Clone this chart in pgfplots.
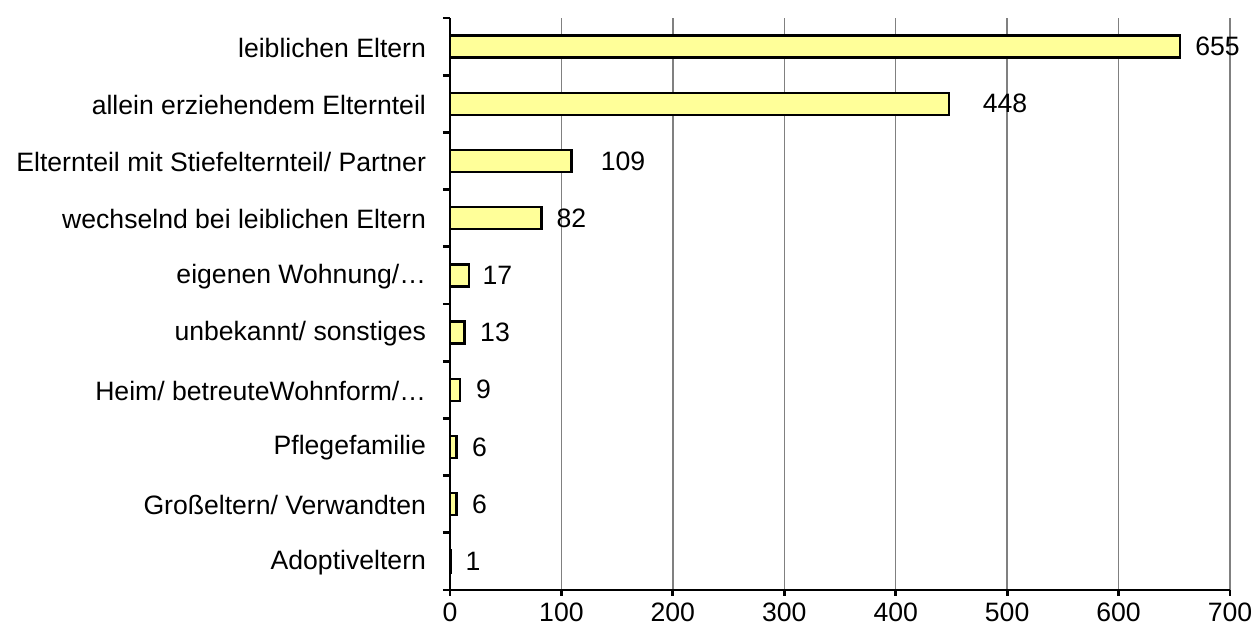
\documentclass[border=0pt]{standalone}
\usepackage{fontspec}
\setmainfont{Liberation Sans}
\usepackage{pgfplots}
\pgfplotsset{compat=1.18}
\usepackage{pgfplotstable}
\definecolor{barfill}{HTML}{FFFF99}
\newcommand\lbl{\fontsize{13.3}{16}\selectfont}

% idx: position from bottom, val: count, lx: where the value label sits
\pgfplotstableread{
idx val lx
9 655 688.8
8 448 498.1
7 109 155.3
6 82 109.0
5 17 42.6
4 13 40.4
3 9 30.1
2 6 26.5
1 6 26.5
0 1 20.6
}\wohnt

\begin{document}
\begin{tikzpicture}
\useasboundingbox (-225pt,-21pt) rectangle (402.5pt,295pt);
\begin{axis}[
  at={(0,0)}, anchor=south west,
  scale only axis, width=390pt, height=286pt,
  xmin=0, xmax=700, ymin=-0.5, ymax=9.5,
  axis x line*=bottom, axis y line*=left,
  axis line style={-, line width=1.4pt},
  xtick={0,100,...,700},
  ytick={0,...,9},
  yticklabels={Adoptiveltern, Großeltern/ Verwandten, Pflegefamilie,
    Heim/ betreuteWohnform/…, unbekannt/ sonstiges, eigenen Wohnung/…,
    wechselnd bei leiblichen Eltern, Elternteil mit Stiefelternteil/ Partner,
    allein erziehendem Elternteil, leiblichen Eltern},
  minor ytick={-0.5,0.5,...,9.5},
  tick align=outside,
  major tick length=3pt,
  minor tick length=3.5pt,
  major y tick style={draw=none},
  minor y tick style={line width=1.4pt, black},
  major x tick style={line width=1.4pt, black},
  xmajorgrids,
  major x grid style={gray, line width=0.7pt},
  tick label style={font=\lbl},
  yticklabel style={xshift=-5.5pt, yshift=-0.5pt},
  /pgf/number format/assume math mode=true,
  clip=false,
]
\addplot[xbar, bar width=0.385, fill=barfill, draw=black, line width=1.2pt]
  table[x=val, y=idx]{\wohnt};
\addplot[draw=none, mark=none, nodes near coords, point meta=explicit,
  nodes near coords style={font=\lbl, anchor=center, black}]
  table[x=lx, y=idx, meta=val]{\wohnt};
\end{axis}
\end{tikzpicture}
\end{document}
